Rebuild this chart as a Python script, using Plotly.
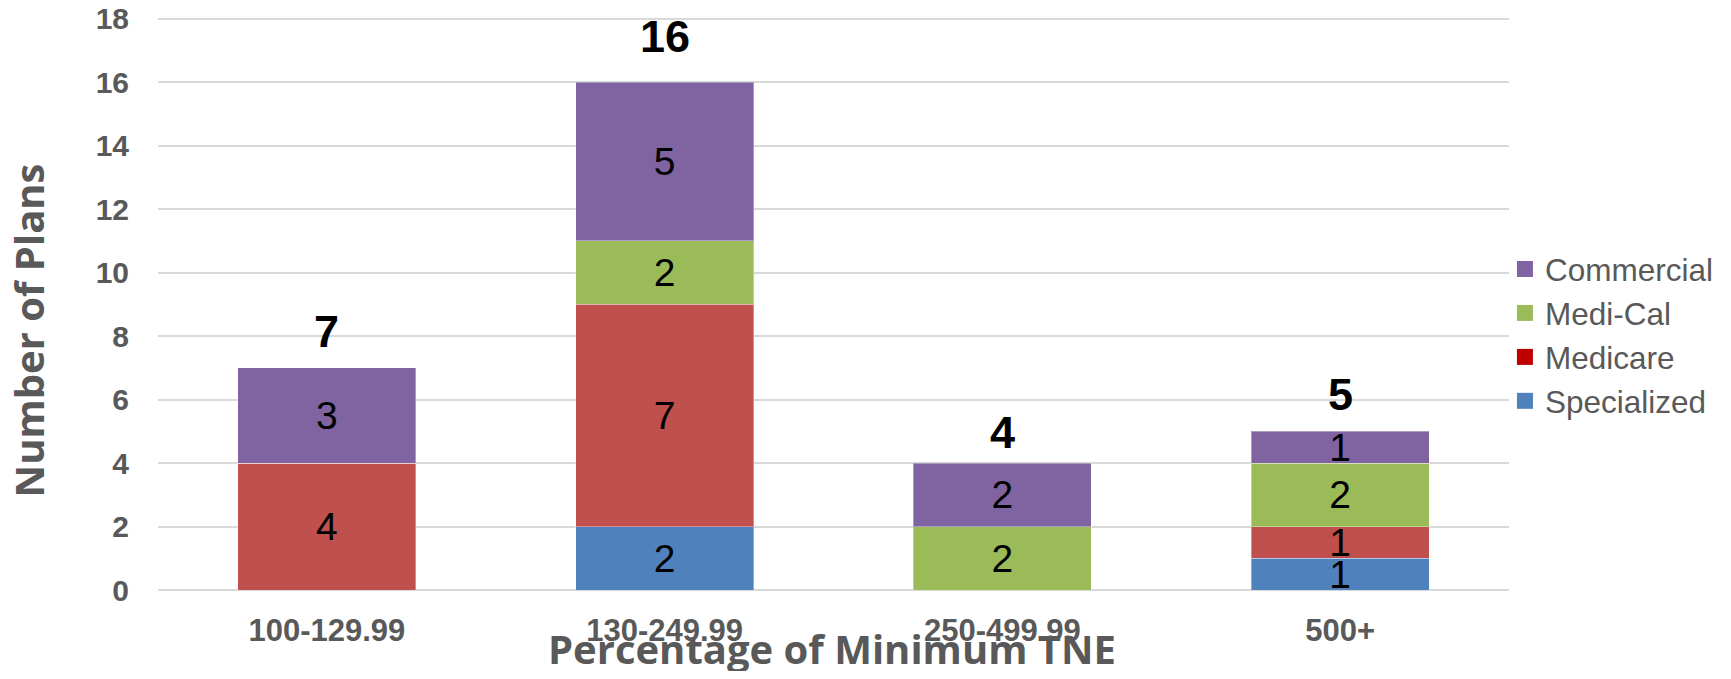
import plotly.graph_objects as go

categories = ["100-129.99", "130-249.99", "250-499.99", "500+"]
specialized = [0, 2, 0, 1]
medicare = [4, 7, 0, 1]
medi_cal = [0, 2, 2, 2]
commercial = [3, 5, 2, 1]

series_names = ["Specialized", "Medicare", "Medi-Cal", "Commercial"]
series_values = [specialized, medicare, medi_cal, commercial]
bar_colors = ["#4F81BD", "#C0504D", "#9BBB59", "#8064A2"]
legend_colors = ["#4F81BD", "#C00000", "#9BBB59", "#8064A2"]

totals = [sum(v) for v in zip(*series_values)]
total_label_offsets = [36, 46, 31, 37]

FONT = "Liberation Sans, Arial, sans-serif"
GRAY = "#595959"

fig = go.Figure()
for name, vals, col in zip(series_names, series_values, bar_colors):
    fig.add_trace(go.Bar(
        x=categories, y=vals, name=name,
        marker=dict(color=col, line=dict(color="rgba(255,255,255,0.35)", width=1)),
        text=[str(v) if v else "" for v in vals],
        textposition="inside", insidetextanchor="middle",
        constraintext="none", textangle=0,
        textfont=dict(family=FONT, size=39, color="black"),
        showlegend=False, hoverinfo="skip",
    ))

for name, col in zip(series_names, legend_colors):
    fig.add_trace(go.Scatter(
        x=[None], y=[None], mode="markers", name=name,
        marker=dict(symbol="square", size=16, color=col),
        showlegend=True,
    ))

for cat, tot, off in zip(categories, totals, total_label_offsets):
    fig.add_annotation(
        x=cat, y=tot, yshift=off, text=str(tot), showarrow=False,
        xanchor="center", yanchor="middle",
        font=dict(family=FONT, size=45, color="black", weight="bold"),
    )

fig.add_annotation(
    xref="paper", yref="paper", x=-0.096, y=0.4536,
    text="Number of Plans", textangle=-90, showarrow=False,
    xanchor="center", yanchor="middle",
    font=dict(family="Open Sans, sans-serif", size=40, color=GRAY, weight="bold"),
)
fig.add_annotation(
    xref="paper", yref="paper", x=0.4989, y=-0.1025,
    text="Percentage of Minimum TNE", showarrow=False,
    xanchor="center", yanchor="middle",
    font=dict(family="Open Sans, sans-serif", size=40, color=GRAY, weight="bold"),
)

# page body has an 8px default margin: size the figure to fit the window
fig.update_layout(
    width=1715, height=663,
    margin=dict(l=150, r=214, t=9, b=81, autoexpand=False),
    barmode="stack", bargap=0.473,
    plot_bgcolor="white", paper_bgcolor="white",
    font=dict(family=FONT, color=GRAY),
    legend=dict(
        x=0.997, y=0.445, xanchor="left", yanchor="middle",
        traceorder="reversed",
        font=dict(family=FONT, size=31.5, color=GRAY),
        bgcolor="rgba(0,0,0,0)",
    ),
    xaxis=dict(
        showgrid=False, showline=False, ticks="", automargin=False,
        tickfont=dict(family=FONT, size=31, color=GRAY, weight="bold"),
        ticklabelstandoff=19,
    ),
    yaxis=dict(
        range=[0, 18.05], tick0=0, dtick=2, showgrid=True, gridcolor="#D9D9D9", gridwidth=1.5,
        zeroline=True, zerolinecolor="#D9D9D9", zerolinewidth=1.5,
        showline=False, ticks="", automargin=False,
        ticklabeloverflow="allow",
        tickfont=dict(family=FONT, size=30, color=GRAY, weight="bold"),
        ticklabelstandoff=28,
    ),
)

fig.write_html("out.html")
